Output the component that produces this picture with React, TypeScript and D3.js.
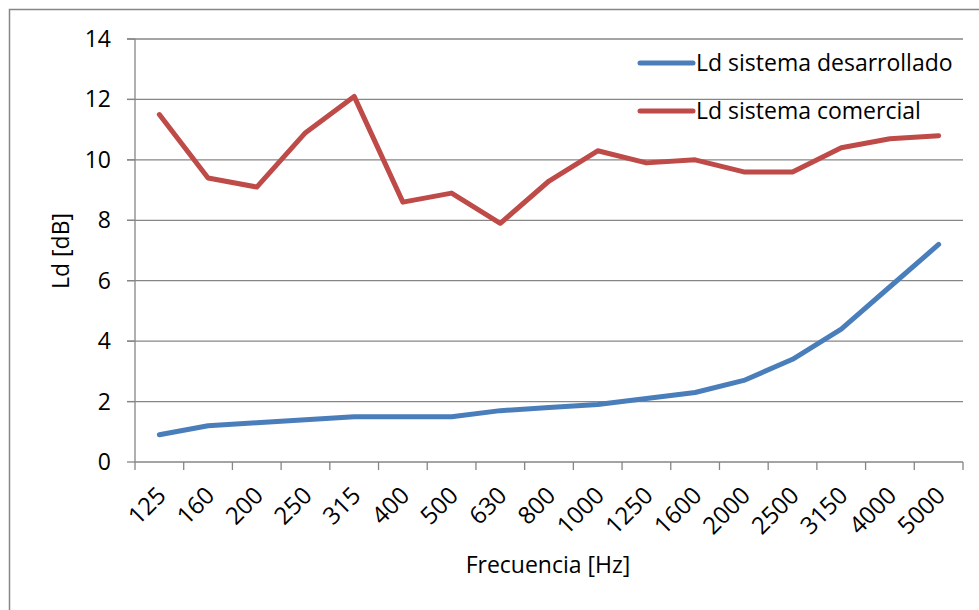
import React from "react";
import * as d3 from "d3";

const categories = ["125","160","200","250","315","400","500","630","800","1000","1250","1600","2000","2500","3150","4000","5000"];
const desarrollado = [0.9,1.2,1.3,1.4,1.5,1.5,1.5,1.7,1.8,1.9,2.1,2.3,2.7,3.4,4.4,5.8,7.2];
const comercial = [11.5,9.4,9.1,10.9,12.1,8.6,8.9,7.9,9.3,10.3,9.9,10.0,9.6,9.6,10.4,10.7,10.8];
const yTicks = [0,2,4,6,8,10,12,14];
const seriesNames = ["Ld sistema desarrollado","Ld sistema comercial"];
const seriesColors = ["#4A7EBB","#BE4B48"];

const W = 979, H = 610;
const FONT = "'Open Sans', sans-serif";

export default function App() {
  const x = d3.scaleBand<string>().domain(categories).range([135, 963]).padding(0);
  const y = d3.scaleLinear().domain([0, 14]).range([462, 39]);
  const bw = x.bandwidth();
  const cx = (c: string) => (x(c) as number) + bw / 2;
  const line = d3.line<number>().x((_, i) => cx(categories[i])).y((v) => y(v));
  const edges = categories.map((c) => x(c) as number).concat([963]);
  const gray = "#868686";
  const fs = 23;
  const fsx = 24;
  return (
    <svg width={W} height={H} style={{ position: "absolute", left: 0, top: 0 }} fontFamily={FONT}>
      <rect x={0} y={0} width={W} height={H} fill="#fff" />
      <rect x={9.5} y={9.5} width={W + 20} height={H + 20} fill="none" stroke={gray} strokeWidth={1.5} />
      {yTicks.filter((t) => t > 0).map((t) => (
        <line key={t} x1={127} x2={963} y1={y(t)} y2={y(t)} stroke={gray} strokeWidth={1.3} />
      ))}
      {yTicks.map((t) => (
        <g key={"yl" + t}>
          <line x1={127} x2={135} y1={y(t)} y2={y(t)} stroke={gray} strokeWidth={1.3} />
          <text x={111} y={y(t) + 8} textAnchor="end" fontSize={fs} fill="#000">{t}</text>
        </g>
      ))}
      <line x1={135} x2={135} y1={39} y2={462} stroke={gray} strokeWidth={1.3} />
      <line x1={135} x2={963} y1={462} y2={462} stroke={gray} strokeWidth={1.3} />
      {edges.map((e, i) => (
        <line key={"xt" + i} x1={e} x2={e} y1={462} y2={470} stroke={gray} strokeWidth={1.3} />
      ))}
      {categories.map((c) => (
        <text key={"xl" + c} transform={`translate(${cx(c) + 8},${497}) rotate(-45)`} textAnchor="end" fontSize={fsx} fill="#000">{c}</text>
      ))}
      <path d={line(comercial) as string} fill="none" stroke={seriesColors[1]} strokeWidth={5} strokeLinejoin="round" strokeLinecap="round" />
      <path d={line(desarrollado) as string} fill="none" stroke={seriesColors[0]} strokeWidth={5} strokeLinejoin="round" strokeLinecap="round" />
      {seriesNames.map((n, i) => (
        <g key={n}>
          <line x1={640} x2={693} y1={63 + i * 48} y2={63 + i * 48} stroke={seriesColors[i]} strokeWidth={5} strokeLinecap="round" />
          <text x={696} y={71 + i * 48} fontSize={fs} fill="#000">{n}</text>
        </g>
      ))}
      <text transform={`translate(69,251) rotate(-90)`} textAnchor="middle" fontSize={fs} fill="#000">Ld [dB]</text>
      <text x={548} y={573} textAnchor="middle" fontSize={fs} fill="#000">Frecuencia [Hz]</text>
    </svg>
  );
}
